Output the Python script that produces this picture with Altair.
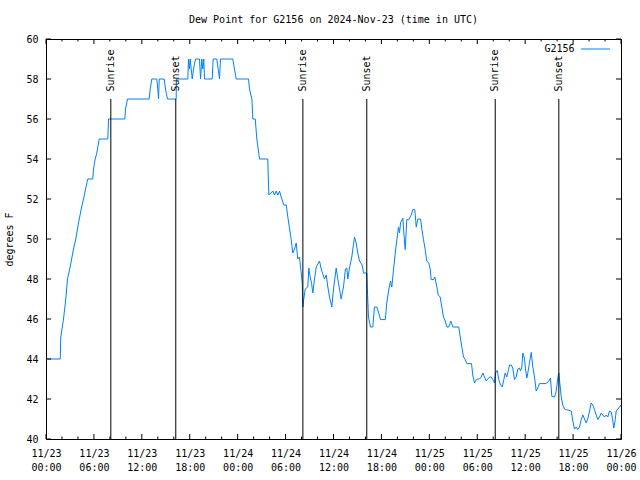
import altair as alt
import pandas as pd

# ---------------- data ----------------
series_name = "G2156"
chart_title = "Dew Point for G2156 on 2024-Nov-23 (time in UTC)"
start_time = "2024-11-23T00:00:00Z"

# hours since 2024-11-23 00:00 UTC
hours = [
    0.00, 1.78, 1.85, 2.19, 2.48, 2.69, 3.03, 3.44, 3.73, 4.07, 4.41, 4.70, 4.95, 5.23,
    5.86, 5.95, 6.16, 6.36, 6.66, 7.74, 7.83, 9.87, 9.96, 10.21, 12.92, 13.05, 13.25,
    13.87, 14.00, 14.09, 14.18, 14.80, 14.96, 15.21, 16.30, 16.33, 17.76, 17.84, 17.96,
    18.06, 18.18, 18.31, 18.47, 18.72, 19.22, 19.35, 19.51, 19.63, 19.76, 19.85, 20.81,
    20.93, 21.39, 21.56, 21.73, 21.85, 23.39, 23.60, 23.82, 25.36, 25.48, 25.78, 25.90,
    26.20, 26.40, 26.57, 26.73, 27.77, 27.90, 28.40, 28.61, 28.83, 29.03, 29.24, 29.45,
    29.78, 30.08, 30.28, 30.49, 30.70, 30.90, 31.12, 31.33, 31.53, 31.74, 31.96, 32.08,
    32.16, 32.28, 32.46, 32.78, 32.91, 33.08, 33.25, 33.41, 33.62, 33.84, 34.25, 34.46,
    34.87, 35.09, 35.29, 35.50, 35.79, 36.00, 36.34, 36.54, 36.75, 36.96, 37.25, 37.50,
    37.67, 37.79, 38.00, 38.29, 38.63, 38.84, 39.04, 39.26, 39.59, 39.76, 40.17, 40.26,
    40.38, 40.63, 40.92, 41.13, 41.42, 41.67, 41.89, 42.48, 42.67, 42.93, 43.14, 43.30,
    43.55, 43.76, 43.98, 44.14, 44.27, 44.39, 44.68, 44.81, 44.98, 45.18, 45.43, 45.73,
    45.93, 46.18, 46.36, 46.56, 46.90, 47.06, 47.27, 47.48, 47.68, 47.93, 48.11, 48.23,
    48.52, 48.69, 48.94, 49.11, 49.36, 49.56, 49.77, 49.99, 50.19, 50.44, 50.69, 50.94,
    51.69, 51.87, 52.07, 52.28, 52.49, 52.69, 53.28, 53.44, 53.66, 53.87, 54.07, 54.28,
    54.50, 54.70, 54.91, 55.12, 55.32, 55.54, 55.75, 55.95, 56.16, 56.29, 56.50, 56.70,
    56.91, 57.13, 57.33, 57.50, 57.70, 57.92, 58.04, 58.25, 58.45, 58.67, 58.88, 59.08,
    59.29, 59.42, 59.58, 59.71, 59.92, 60.04, 60.21, 60.33, 60.54, 60.76, 60.96, 61.17,
    61.38, 61.58, 61.80, 62.64, 62.96, 63.17, 63.34, 63.68, 63.89, 64.09, 64.21, 64.34,
    64.51, 64.71, 64.93, 65.14, 65.77, 65.97, 66.18, 66.39, 66.59, 66.80, 67.02, 67.22,
    67.43, 67.64, 67.84, 68.06, 68.27, 68.47, 68.68, 68.89, 69.10, 69.31, 69.52, 69.72,
    69.94, 70.15, 70.35, 70.56, 70.77, 70.98, 71.10, 71.28, 71.40, 71.60, 71.81, 72.00,
]

dew_point_f = [
    44.0, 44.0, 45.1, 46.0, 47.0, 48.0, 48.6, 49.5, 50.0, 50.8, 51.5, 52.0, 52.5, 53.0,
    53.0, 53.5, 54.0, 54.3, 55.0, 55.0, 56.0, 56.0, 56.5, 57.0, 57.0, 57.5, 58.0,
    58.0, 57.5, 57.0, 58.0, 58.0, 57.5, 57.0, 57.0, 58.0, 58.0, 59.0, 58.5,
    59.0, 58.5, 58.0, 58.5, 59.0, 59.0, 58.0, 59.0, 58.5, 59.0, 58.0, 58.0,
    59.0, 59.0, 58.5, 58.0, 59.0, 59.0, 58.5, 58.0, 58.0, 57.5, 57.0, 56.0,
    56.0, 55.0, 54.5, 54.0, 54.0, 52.2, 52.4, 52.2, 52.4, 52.2, 52.4, 52.1,
    51.7, 51.7, 51.1, 50.55, 49.97, 49.3, 49.5, 49.8, 49.0, 49.1, 48.3, 47.8,
    46.6, 47.0, 47.5, 47.6, 48.55, 48.1, 47.8, 47.3, 48.0, 48.6, 48.9, 48.5,
    48.0, 48.2, 47.6, 47.1, 46.6, 47.5, 48.55, 48.0, 47.5, 47.0, 47.6, 48.5,
    48.55, 48.0, 48.55, 49.1, 50.1, 49.8, 49.3, 48.9, 48.7, 48.3, 48.3, 47.3,
    46.1, 45.6, 45.6, 46.6, 46.6, 46.3, 45.97, 45.97, 46.8, 47.5, 47.9, 47.6,
    48.6, 49.4, 50.1, 50.6, 50.3, 50.8, 51.05, 50.3, 49.47, 50.97, 50.97, 51.2,
    51.47, 51.47, 50.6, 51.0, 51.0, 50.5, 49.97, 49.47, 48.9, 48.8, 48.5, 47.97,
    47.97, 48.1, 47.6, 47.2, 47.1, 46.6, 46.1, 45.9, 45.6, 45.6, 45.9, 45.6,
    45.6, 45.1, 44.6, 44.1, 43.97, 43.77, 43.77, 43.2, 42.8, 42.97, 43.0, 43.0,
    43.1, 43.3, 43.1, 42.9, 43.0, 43.1, 43.1, 42.97, 42.8, 43.3, 43.43, 42.97,
    42.7, 42.6, 42.97, 43.3, 43.1, 43.47, 43.7, 43.7, 43.55, 42.97, 43.1, 43.5,
    43.55, 43.4, 43.6, 44.3, 44.0, 43.5, 43.05, 43.3, 43.8, 44.33, 43.6, 43.1,
    42.4, 42.55, 42.77, 42.77, 42.9, 43.05, 42.13, 42.1, 42.4, 43.05, 43.3, 42.8,
    42.13, 41.7, 41.5, 41.47, 41.4, 40.9, 40.5, 40.6, 40.47, 40.6, 40.97, 41.2,
    41.0, 40.8, 41.0, 41.4, 41.8, 41.7, 41.47, 41.2, 40.97, 41.1, 41.3, 41.2,
    41.1, 41.2, 41.1, 41.4, 41.35, 40.9, 40.55, 40.97, 41.4, 41.5, 41.6, 41.7,
]

event_names = ["Sunrise", "Sunset", "Sunrise", "Sunset", "Sunrise", "Sunset"]
event_times = [
    "2024-11-23T08:07:00Z", "2024-11-23T16:15:00Z",
    "2024-11-24T08:10:00Z", "2024-11-24T16:10:00Z",
    "2024-11-25T08:15:00Z", "2024-11-25T16:13:00Z",
]

y_ticks = [40, 42, 44, 46, 48, 50, 52, 54, 56, 58, 60]

# ---------------- build tables ----------------
t0 = pd.Timestamp(start_time)
fmt = "%Y-%m-%dT%H:%M:%SZ"
df = pd.DataFrame({
    "time": [(t0 + pd.Timedelta(hours=h)).strftime(fmt) for h in hours],
    "dew": dew_point_f,
})
events = pd.DataFrame({"time": event_times, "name": event_names})

tick_range = pd.date_range(t0, periods=37, freq="2h")
major_ticks = pd.DataFrame({"time": [t.strftime(fmt) for t in tick_range[::3]]})
minor_ticks = pd.DataFrame({"time": [t.strftime(fmt) for i, t in enumerate(tick_range) if i % 3]})
ytick_df = pd.DataFrame({"dew": y_ticks})

W, H = 575, 400
FONT = "DejaVu Sans Mono"
LINE_COLOR = "#0080ff"

xscale = alt.Scale(
    type="utc",
    domain=[alt.DateTime(year=2024, month=11, date=23, utc=True),
            alt.DateTime(year=2024, month=11, date=26, utc=True)],
)
yscale = alt.Scale(domain=[40, 60], nice=False, zero=False)

x_axis = alt.Axis(
    values=[alt.DateTime(year=2024, month=11, date=23 + (h // 24), hours=h % 24, utc=True)
            for h in range(0, 73, 6)],
    labelExpr="[utcFormat(datum.value, '%m/%d'), utcFormat(datum.value, '%H:%M')]",
    ticks=False, domain=False, grid=False, labelPadding=9, labelLineHeight=14,
    labelFont=FONT, labelFontSize=10, labelColor="black", labelAlign="center",
    labelFlush=False, labelOverlap=False, title=None,
)
y_axis = alt.Axis(
    values=y_ticks, ticks=False, domain=False, grid=False, labelPadding=8,
    labelFont=FONT, labelFontSize=10, labelColor="black",
    labelOverlap=False, labelFlush=False,
    title="degrees F", titleFont=FONT, titleFontSize=10, titleFontWeight="normal",
    titleColor="black", titlePadding=11,
)

X = lambda: alt.X("time:T", scale=xscale, axis=x_axis)
Y = lambda: alt.Y("dew:Q", scale=yscale, axis=y_axis)

line = alt.Chart(df).mark_line(color=LINE_COLOR, strokeWidth=1, clip=True).encode(
    x=X(), y=Y(),
)

event_rules = alt.Chart(events).mark_rule(color="black", strokeWidth=1).encode(
    x=X(), y=alt.value(H), y2=alt.value(60),
)
event_text = alt.Chart(events).mark_text(
    angle=270, align="left", baseline="middle", font=FONT, fontSize=10, color="black",
).encode(x=X(), y=alt.value(52.5), text="name:N")

def xticks(data, length):
    bottom = alt.Chart(data).mark_rule(color="black", strokeWidth=1).encode(
        x=X(), y=alt.value(H), y2=alt.value(H - length))
    top = alt.Chart(data).mark_rule(color="black", strokeWidth=1).encode(
        x=X(), y=alt.value(0), y2=alt.value(length))
    return [bottom, top]

ytick_left = alt.Chart(ytick_df).mark_rule(color="black", strokeWidth=1).encode(
    y=Y(), x=alt.value(0), x2=alt.value(5))
ytick_right = alt.Chart(ytick_df).mark_rule(color="black", strokeWidth=1).encode(
    y=Y(), x=alt.value(W), x2=alt.value(W - 5))

title_df = pd.DataFrame({"t": [chart_title]})
title_text = alt.Chart(title_df).mark_text(
    font=FONT, fontSize=10, color="black", baseline="middle", align="center",
).encode(x=alt.value(W / 2), y=alt.value(-19.5), text="t:N")

legend_df = pd.DataFrame({"name": [series_name]})
legend_text = alt.Chart(legend_df).mark_text(
    font=FONT, fontSize=10, color="black", baseline="middle", align="right",
).encode(x=alt.value(528.5), y=alt.value(10), text="name:N")
legend_line = alt.Chart(legend_df).mark_rule(color=LINE_COLOR, strokeWidth=1).encode(
    x=alt.value(535), x2=alt.value(564), y=alt.value(10))

layers = [line, event_rules, event_text] + xticks(major_ticks, 5) + xticks(minor_ticks, 2.5) + [
    ytick_left, ytick_right, title_text, legend_text, legend_line]

chart = alt.layer(*layers).properties(
    width=W, height=H,
    autosize=alt.AutoSizeParams(type="none"),
    padding={"left": 46, "top": 39, "right": 19, "bottom": 41},
    background="white",
).configure_view(stroke="black", strokeWidth=1)

chart.save("out.html", embed_options={"renderer": "svg", "actions": False})
